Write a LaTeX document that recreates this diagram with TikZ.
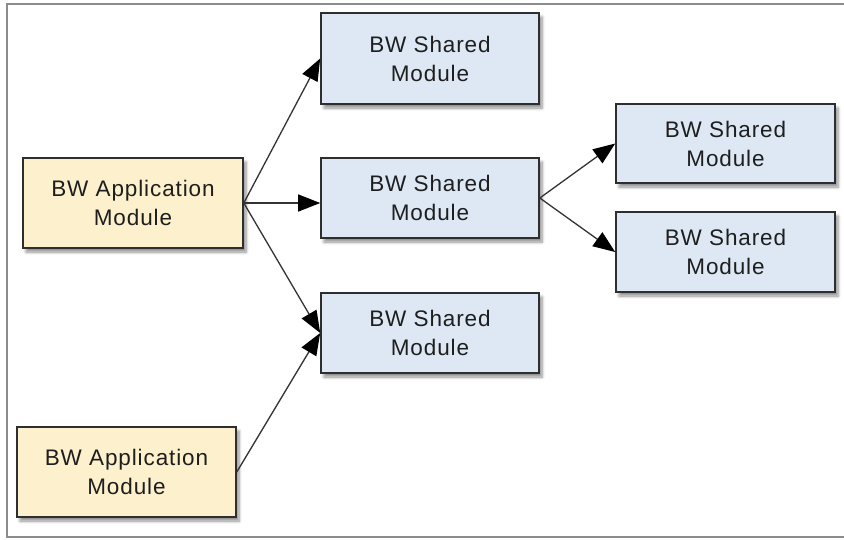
\documentclass[tikz,border=0pt]{standalone}
\usepackage{fontspec}
\setmainfont{Liberation Sans}[LetterSpace=4]
\usetikzlibrary{arrows.meta,shadows.blur}
\definecolor{appfill}{HTML}{FDF0CC}
\definecolor{sharedfill}{HTML}{DDE8F4}
\definecolor{boxline}{HTML}{2E2E2E}
\definecolor{arrowline}{HTML}{333333}
\definecolor{framegray}{HTML}{8C8C8C}
\definecolor{textcol}{HTML}{1E1E1E}
\tikzset{
  modbox/.style={draw=boxline, line width=1.6pt, align=center, inner sep=0pt,
    text=textcol, font=\fontsize{22.5}{29}\selectfont,
    blur shadow={shadow xshift=3pt, shadow yshift=-4pt, shadow blur steps=6, shadow blur radius=3pt, shadow opacity=45}},
  appbox/.style={modbox, fill=appfill},
  sharedbox/.style={modbox, fill=sharedfill},
  link/.style={draw=arrowline, line width=1.3pt, -{Triangle[length=22pt,width=17pt,color=black,fill=black]}}
}
\begin{document}
\begin{tikzpicture}[x=1pt,y=-1pt]
\useasboundingbox (0,0) rectangle (844,539);
\draw[framegray, line width=2pt] (844,4) -- (7,4) -- (7,537) -- (844,537);

\node[appbox, minimum width=220pt, minimum height=90pt] (a1) at (133,203) {BW Application\\Module};
\node[appbox, minimum width=219pt, minimum height=90pt] (a2) at (126.5,472) {BW Application\\Module};
\node[sharedbox, minimum width=218pt, minimum height=91pt] (s1) at (430,58.5) {BW Shared\\Module};
\node[sharedbox, minimum width=218pt, minimum height=80pt] (s2) at (430,198) {BW Shared\\Module};
\node[sharedbox, minimum width=218pt, minimum height=80pt] (s3) at (430,333) {BW Shared\\Module};
\node[sharedbox, minimum width=219pt, minimum height=79pt] (r1) at (725.5,143.5) {BW Shared\\Module};
\node[sharedbox, minimum width=219pt, minimum height=80pt] (r2) at (725.5,252) {BW Shared\\Module};

\draw[link] (a1.east) -- (s1.west);
\draw[link] (a1.east) -- (a1.east -| s2.west);
\draw[link] (a1.east) -- (s3.west);
\draw[link] (a2.east) -- (s3.west);
\draw[link] (s2.east) -- (r1.west);
\draw[link] (s2.east) -- (r2.west);
\end{tikzpicture}
\end{document}
